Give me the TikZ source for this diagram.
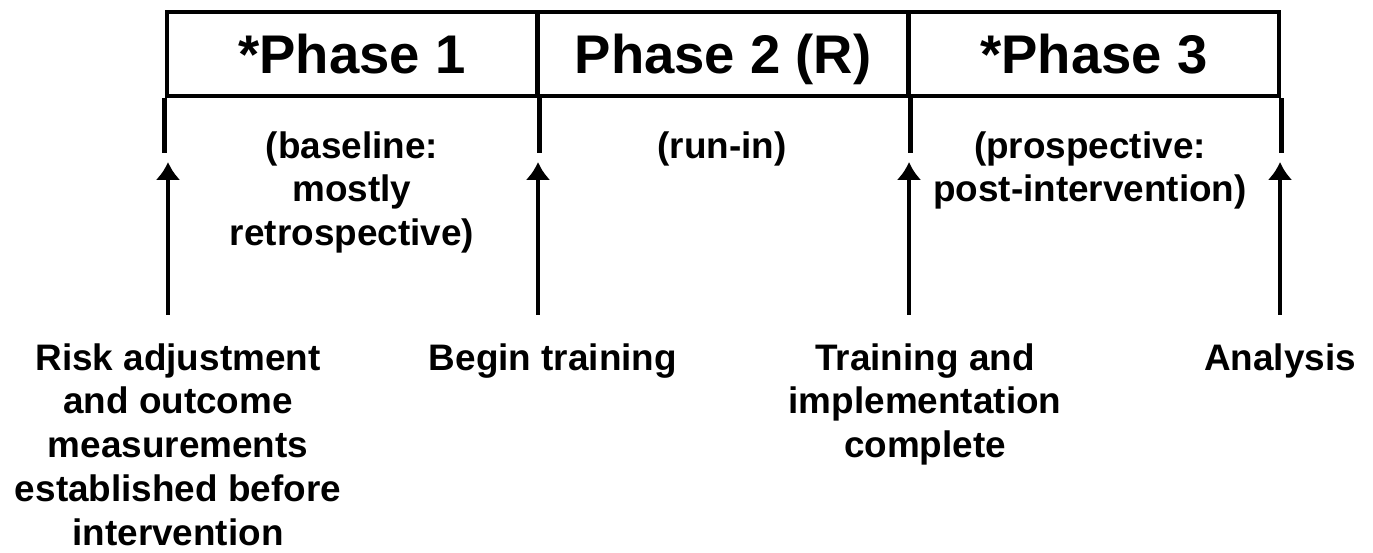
\documentclass[tikz,border=0pt]{standalone}
\usepackage{fontspec}
\setmainfont{Liberation Sans}
\usepackage{tikz}
\usetikzlibrary{arrows.meta}

\begin{document}
\begin{tikzpicture}[x=0.02cm, y=-0.02cm,
	phasebox/.style={draw, rectangle, line width=2.3pt, minimum width=7.42cm,
		minimum height=1.68cm, inner sep=0pt, text depth=0pt,
		font=\fontsize{31}{37}\selectfont\bfseries},
	note/.style={align=center, inner sep=0pt, anchor=north,
		font=\fontsize{21}{24.9}\selectfont\bfseries},
	tick/.style={line width=2.3pt},
	marker/.style={line width=2.3pt, -{Latex[length=0.36cm, width=0.5cm]}}]
	\def \top {54}
	\def \foot {315}
	\def \head {162}
	\useasboundingbox (0,0) rectangle (1373,553);

	% phase boxes
	\node[phasebox] (phase1) at (352,\top)    {*Phase 1};
	\node[phasebox] (phase2) at (723,\top)    {Phase 2 (R)};
	\node[phasebox] (phase3) at (1094,\top)   {*Phase 3};

	% ticks under the boxes
	\coordinate (tick1) at (phase1.south west |- 0,153);
	\coordinate (tick2) at (phase1.south east |- 0,153);
	\coordinate (tick3) at (phase2.south east |- 0,153);
	\coordinate (tick4) at (phase3.south east |- 0,153);
	\draw[tick] (phase1.south west) -- (tick1);
	\draw[tick] (phase1.south east) -- (tick2);
	\draw[tick] (phase2.south east) -- (tick3);
	\draw[tick] (phase3.south east) -- (tick4);

	% what each phase is
	\node[note] (baseline) at (352,131)  {(baseline:\\mostly\\retrospective)};
	\node[note] (runin)    at (722,131)  {(run-in)};
	\node[note] (prosp)    at (1090,131) {(prospective:\\post-intervention)};

	% milestones
	\coordinate (foot1) at (168,\foot);  \coordinate (head1) at (168,\head);
	\coordinate (foot2) at (538,\foot);  \coordinate (head2) at (538,\head);
	\coordinate (foot3) at (909,\foot);  \coordinate (head3) at (909,\head);
	\coordinate (foot4) at (1280,\foot); \coordinate (head4) at (1280,\head);
	\draw[marker] (foot1) -- (head1);
	\draw[marker] (foot2) -- (head2);
	\draw[marker] (foot3) -- (head3);
	\draw[marker] (foot4) -- (head4);

	\node[note] (risk)     at (178,343)
		{Risk adjustment\\and outcome\\measurements\\established before\\intervention};
	\node[note] (begin)    at (553,343)  {Begin training};
	\node[note] (complete) at (925,343)
		{Training and\\implementation\\complete};
	\node[note] (analysis) at (1280,343) {Analysis};
\end{tikzpicture}
\end{document}
